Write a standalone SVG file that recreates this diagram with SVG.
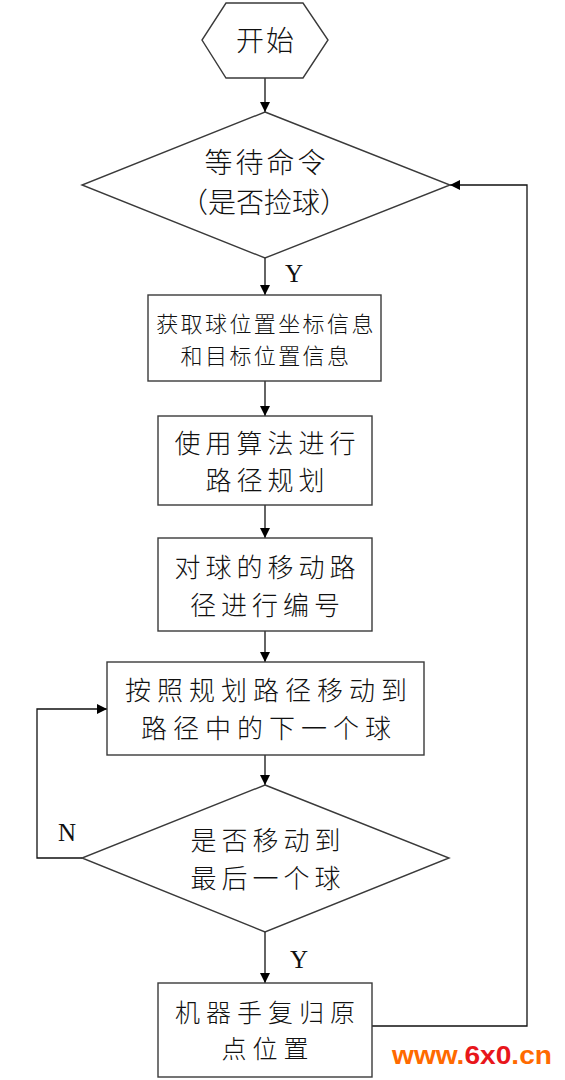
<svg xmlns="http://www.w3.org/2000/svg" width="565" height="1080" viewBox="0 0 565 1080">
<defs>
<style>
.shape{fill:#fff;stroke:#3a3a3a;stroke-width:1.4}
.cn{font-family:"Noto Sans CJK SC","Liberation Serif",sans-serif;font-weight:300;fill:#111;text-anchor:middle}
.lbl{font-family:"Liberation Serif",serif;fill:#111;text-anchor:middle}
.conn{fill:none;stroke:#111;stroke-width:1.3}
</style>
<marker id="arr" viewBox="0 0 10 10" refX="10" refY="5" markerWidth="10" markerHeight="10" markerUnits="userSpaceOnUse" orient="auto">
<path d="M0,0 L10,5 L0,10 z" fill="#000"/>
</marker>
</defs>
<rect width="565" height="1080" fill="#fff"/>

<g id="connectors">
<line class="conn" x1="265" y1="78" x2="265" y2="112" marker-end="url(#arr)"/>
<line class="conn" x1="265" y1="258" x2="265" y2="295" marker-end="url(#arr)"/>
<line class="conn" x1="265" y1="381" x2="265" y2="416" marker-end="url(#arr)"/>
<line class="conn" x1="265" y1="505" x2="265" y2="538" marker-end="url(#arr)"/>
<line class="conn" x1="265" y1="631" x2="265" y2="662" marker-end="url(#arr)"/>
<line class="conn" x1="265" y1="755" x2="265" y2="785" marker-end="url(#arr)"/>
<line class="conn" x1="265" y1="932" x2="265" y2="983" marker-end="url(#arr)"/>
<polyline class="conn" points="82,858 37,858 37,709 107,709" marker-end="url(#arr)"/>
<polyline class="conn" points="372,1026 527,1026 527,185 450,185" marker-end="url(#arr)" stroke="#555"/>
<text class="lbl" x="294" y="282" font-size="25">Y</text>
<text class="lbl" x="67" y="841" font-size="25">N</text>
<text class="lbl" x="299" y="968" font-size="25">Y</text>
</g>

<g id="start">
<polygon class="shape" points="226,3 303,3 328,40 303,78 226,78 202,40"/>
<text class="cn" x="266" y="51" font-size="28" letter-spacing="2">开始</text>
</g>

<g id="wait">
<polygon class="shape" points="265,112 450,185 265,258 82,185"/>
<text class="cn" x="266.5" y="173" font-size="28" letter-spacing="3">等待命令</text>
<text class="cn" x="264" y="213" font-size="28">（是否捡球）</text>
</g>

<g id="getinfo">
<rect class="shape" x="148" y="295" width="233" height="86"/>
<text class="cn" x="266" y="332" font-size="22" letter-spacing="2.4">获取球位置坐标信息</text>
<text class="cn" x="266" y="364" font-size="22" letter-spacing="2.4">和目标位置信息</text>
</g>

<g id="plan">
<rect class="shape" x="158" y="416" width="214" height="89"/>
<text class="cn" x="267.5" y="453" font-size="26" letter-spacing="5">使用算法进行</text>
<text class="cn" x="267.5" y="490" font-size="26" letter-spacing="5">路径规划</text>
</g>

<g id="number">
<rect class="shape" x="158" y="538" width="214" height="93"/>
<text class="cn" x="267.5" y="577" font-size="26" letter-spacing="5">对球的移动路</text>
<text class="cn" x="267.5" y="615" font-size="26" letter-spacing="5">径进行编号</text>
</g>

<g id="move">
<rect class="shape" x="107" y="662" width="317" height="93"/>
<text class="cn" x="269" y="700" font-size="26" letter-spacing="6">按照规划路径移动到</text>
<text class="cn" x="269" y="738" font-size="26" letter-spacing="6">路径中的下一个球</text>
</g>

<g id="last">
<polygon class="shape" points="265,785 449,858 265,932 82,858"/>
<text class="cn" x="268" y="850" font-size="26" letter-spacing="5">是否移动到</text>
<text class="cn" x="268" y="888" font-size="26" letter-spacing="5">最后一个球</text>
</g>

<g id="home">
<rect class="shape" x="158" y="983" width="214" height="94"/>
<text class="cn" x="268" y="1022" font-size="25" letter-spacing="6">机器手复归原</text>
<text class="cn" x="268" y="1058" font-size="25" letter-spacing="6">点位置</text>
</g>

<g id="watermark">
<text x="392" y="1064" font-family="Liberation Sans, sans-serif" font-weight="bold" font-size="25" textLength="160" lengthAdjust="spacingAndGlyphs" fill="#FF6A00">www.<tspan fill="#E8161B">6x0</tspan>.cn</text>
</g>
</svg>
